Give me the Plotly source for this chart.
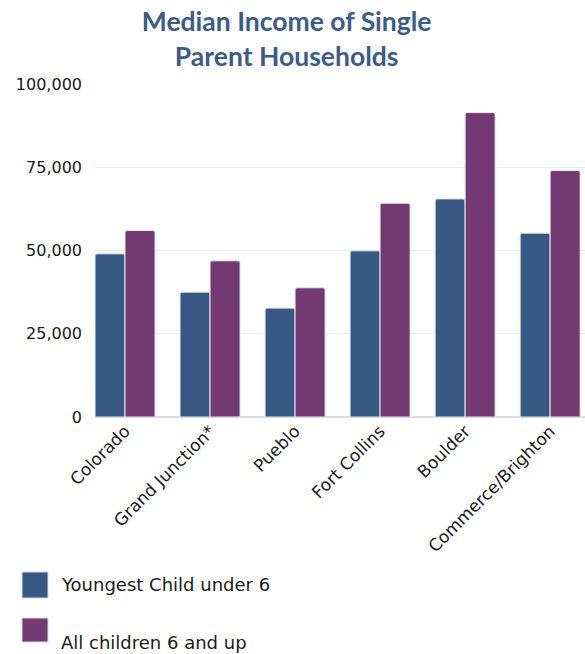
import plotly.graph_objects as go

regions = ["Colorado", "Grand Junction*", "Pueblo", "Fort Collins", "Boulder", "Commerce/Brighton"]
youngest_under_6 = [49000, 37500, 32700, 49900, 65500, 55200]
all_6_and_up = [56000, 46900, 38800, 64200, 91400, 74000]
series_names = ["Youngest Child under 6", "All children 6 and up"]
y_ticks = [0, 25000, 50000, 75000, 100000]

BLUE = "#355983"
PURPLE = "#733a72"
TEXT_FONT = "DejaVu Sans"

fig = go.Figure()
for name, vals, col in [(series_names[0], youngest_under_6, BLUE),
                        (series_names[1], all_6_and_up, PURPLE)]:
    fig.add_trace(go.Bar(
        x=regions, y=vals, name=name, showlegend=False,
        marker=dict(color=col, line=dict(color="#e6e6ee", width=1)),
    ))

fig.update_layout(
    width=585, height=654,
    margin=dict(l=95, r=0, t=84, b=237),
    plot_bgcolor="white", paper_bgcolor="white",
    barmode="group", bargap=0.294, bargroupgap=0.0, barcornerradius=2,
    title=dict(
        text="<b>Median Income of Single<br>Parent Households</b>",
        x=0.49, xanchor="center", xref="container",
        y=0.952, yanchor="top", yref="container",
        font=dict(family="Lato", size=26.5, color="#3b5b88"),
    ),
    xaxis=dict(
        range=[-0.353, 5.41], tickangle=-45,
        tickfont=dict(family=TEXT_FONT, size=17, color="#1a1a1a"),
        showgrid=False, ticks="", showline=False,
    ),
    yaxis=dict(
        range=[0, 100000], tickvals=y_ticks, tickformat=",",
        tickfont=dict(family=TEXT_FONT, size=16, color="#1a1a1a"),
        gridcolor="#ececec", gridwidth=1, zeroline=True, zerolinecolor="#dcdcdc",
        zerolinewidth=1.5, ticklabelstandoff=12,
    ),
)

# Legend: colour swatches with labels, placed under the rotated region labels
legend_rows = [(series_names[0], BLUE, 572, 598, 584),
               (series_names[1], PURPLE, 618, 642, 642)]
for label, col, y0, y1, ty in legend_rows:
    fig.add_shape(type="rect", xref="paper", yref="paper",
                  x0=(22 - 95) / 490, x1=(48 - 95) / 490,
                  y0=(654 - 237 - y1) / 333, y1=(654 - 237 - y0) / 333,
                  fillcolor=col, line=dict(color="#d8d8e0", width=1))
    fig.add_annotation(text=label, xref="paper", yref="paper",
                       x=(59 - 95) / 490, y=(654 - 237 - ty) / 333,
                       xanchor="left", yanchor="middle", showarrow=False,
                       font=dict(family=TEXT_FONT, size=18, color="#1a1a1a"))

fig.write_html("out.html")
